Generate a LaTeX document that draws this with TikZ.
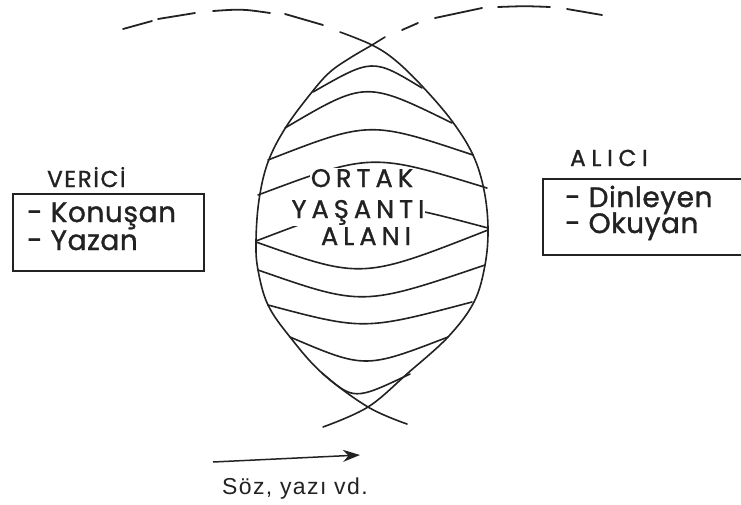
\documentclass[tikz,border=0pt]{standalone}
\usepackage{fontspec}
\setmainfont{Poppins}
\newfontfamily\midfont{Poppins}[LetterSpace=20, FakeBold=1.2]
\newfontfamily\boxfont{Poppins}[LetterSpace=2, FakeBold=1.2]
\newfontfamily\verfont{Poppins}[LetterSpace=7, FakeBold=1.2]
\newfontfamily\alfont{Poppins}[LetterSpace=25, FakeBold=1.2]
\newfontfamily\capfont{Liberation Sans}[LetterSpace=6]
\usetikzlibrary{arrows.meta}
\definecolor{ink}{HTML}{222222}
\tikzset{
  lensline/.style={draw=ink, line width=1.6pt, line cap=round},
  dashpiece/.style={draw=ink, line width=1.8pt, line cap=round},
  band/.style={draw=ink, line width=1.6pt, line cap=round},
  boxframe/.style={draw=ink, line width=1.6pt, anchor=north west, inner sep=0pt},
  lab/.style={text=ink, inner sep=0pt},
  midlab/.style={text=ink, fill=white, inner sep=1pt, font=\midfont\fontsize{25.5}{27}\selectfont},
  boxlab/.style={text=ink, inner sep=0pt, anchor=base west, font=\boxfont\fontsize{28}{29}\selectfont},
}
\begin{document}
\begin{tikzpicture}[x=1pt,y=-1pt]
\fill[white] (0,0) rectangle (741,504);
\useasboundingbox (0,0) rectangle (741,504);

% dashed upper arcs
\draw[dashpiece] (123,29) -- (152,21);
\draw[dashpiece] (158,19) -- (195,13);
\draw[dashpiece] (213,11) .. controls (242,9) .. (270,13);
\draw[dashpiece] (285,14) -- (323,25);
\draw[dashpiece] (402,30) -- (418,23);
\draw[dashpiece] (435,18) -- (482,8);
\draw[dashpiece] (498,7) .. controls (525,6) .. (550,7);
\draw[dashpiece] (567,9) -- (602,15);

% lens boundaries
\draw[lensline] plot[smooth, tension=0.6] coordinates {(340,32) (372,45) (395,60) (422,86) (452,121) (473,155) (484,190) (488,228) (485,265) (474,302) (448,337) (408,373) (368,407) (323,427)};
\draw[lensline] plot[smooth, tension=0.6] coordinates {(385,37) (372,45) (350,58) (330,72) (312,92) (286,127) (268,162) (259,200) (256,241) (258,270) (268,305) (290,337) (322,373) (368,407) (407,424)};

% bands
\draw[band] (313,92) .. controls (372.5,58) .. (422,88);
\draw[band] (285,128) .. controls (365.5,80.5) .. (452,123);
\draw[band] (268,160) .. controls (369.5,120.5) .. (473,155);
\draw[band] (258,195) .. controls (371.5,152.5) .. (487,188);
\draw[band] (256,241) .. controls (371.5,197) .. (488,228);
\draw[band] (256,242) .. controls (362,279.5) .. (488,230);
\draw[band] (258,270) .. controls (362.5,306.5) .. (485,265);
\draw[band] (268,305) .. controls (364,330.5) .. (472,302);
\draw[band] (290,337) .. controls (365,369) .. (448,337);
\draw[band] (322,373) .. controls (354,400.5) .. (410,374);

% middle labels
\node[midlab, anchor=base] (ortak) at (362,187) {ORTAK};
\node[midlab, anchor=base] (yasanti) at (358,218) {YAŞANTI};
\node[midlab, anchor=base] (alani) at (366,245) {ALANI};

% sender
\node[lab, anchor=base west, font=\verfont\fontsize{23}{24}\selectfont] (verici) at (47,187) {VERİCİ};
\node[boxframe, minimum width=191pt, minimum height=77pt] (vbox) at (12,193) {};
\node[boxlab] (konusan) at (27,222) {- Konuşan};
\node[boxlab] (yazan) at (27,250) {- Yazan};

% receiver
\node[lab, anchor=base west, font=\alfont\fontsize{23}{24}\selectfont] (alici) at (570,166) {ALICI};
\node[boxframe, minimum width=206pt, minimum height=76pt] (abox) at (542,178) {};
\node[boxlab] (dinleyen) at (565,207) {- Dinleyen};
\node[boxlab] (okuyan) at (565,233) {- Okuyan};

% message arrow
\coordinate (arrS) at (213,462);
\coordinate (arrE) at (360,455);
\draw[draw=ink, fill=ink, line width=1.5pt, -{Stealth[length=17pt,width=12pt]}] (arrS) -- (arrE);
\node[lab, anchor=base west, font=\capfont\fontsize{23}{25}\selectfont] (soz) at (222,494) {Söz, yazı vd.};
\end{tikzpicture}
\end{document}
